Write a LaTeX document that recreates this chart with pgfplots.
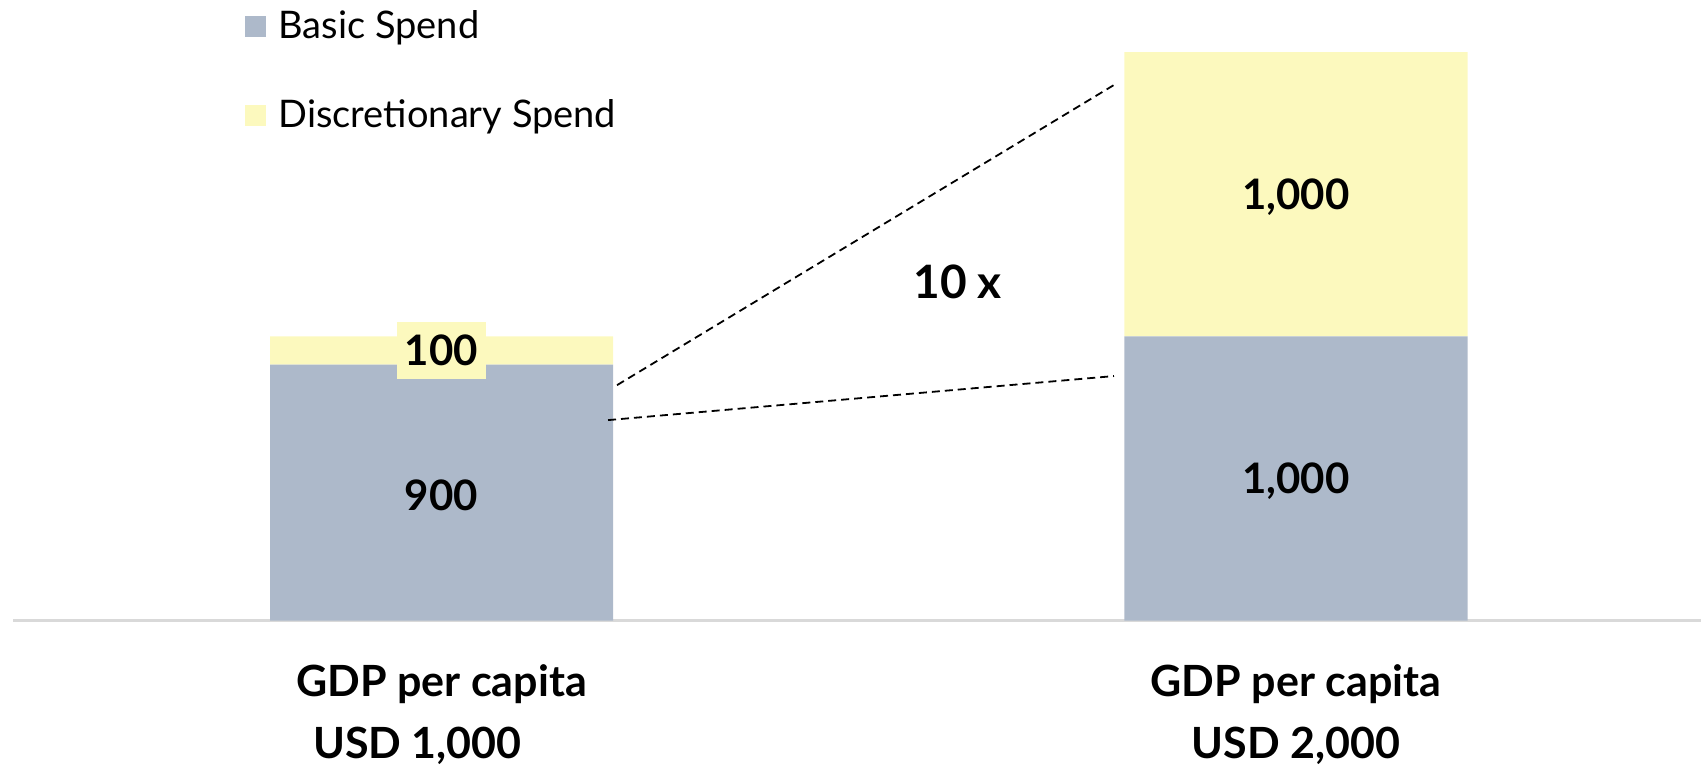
\documentclass[border=0pt]{standalone}
\usepackage{pgfplots}
\pgfplotsset{compat=1.18}
\usepackage{fontspec}
\setmainfont{Lato}
\definecolor{basic}{HTML}{ADB9CA}
\definecolor{discr}{HTML}{FCF9BE}
\definecolor{baseline}{HTML}{D9D9D9}

\begin{document}
\begin{tikzpicture}
\begin{axis}[
    at={(0,0)}, anchor=south west,
    scale only axis,
    width=844pt,
    height=310.25pt,
    ybar stacked,
    bar width=171.5pt,
    xmin=-0.5015, xmax=1.474,
    ymin=0, ymax=2183,
    axis x line=bottom,
    axis y line=none,
    x axis line style={-, draw=baseline, line width=1.5pt},
    xtick={0,1},
    major tick length=0pt,
    xticklabels={{GDP per capita\\[6pt]USD 1,000\hspace*{24pt}},{GDP per capita\\[6pt]USD 2,000}},
    xticklabel style={align=center, font=\fontsize{21.5}{25}\selectfont\bfseries,
        anchor=north, inner sep=0pt, yshift=-21.8pt},
    legend style={at={(axis description cs:0.137,0.99)}, anchor=north west,
        draw=none, fill=none, inner sep=0pt,
        font=\fontsize{19}{22}\selectfont,
        row sep=25pt, cells={anchor=west}},
    legend image code/.code={\fill[#1] (0pt,-5.25pt) rectangle (10.5pt,5.25pt);
        \path (15pt,0pt);},
    clip=false,
]
\addplot[fill=basic, draw=none] coordinates {(0,900) (1,1000)};
\addplot[fill=discr, draw=none] coordinates {(0,100) (1,1000)};
\legend{Basic Spend, Discretionary Spend}

% anchor points for the labels, drawn after the axis so they sit on top
\coordinate (b0) at (axis cs:0,440);
\coordinate (d0) at (axis cs:0,950);
\coordinate (b1) at (axis cs:1,490);
\coordinate (d1) at (axis cs:1,1490);
\coordinate (l1a) at (axis cs:0.2054,828);
\coordinate (l1b) at (axis cs:0.787,1884);
\coordinate (l2a) at (axis cs:0.1949,705);
\coordinate (l2b) at (axis cs:0.787,860);
\coordinate (mult) at (axis cs:0.604,1191);
\end{axis}

\tikzset{lbl/.style={font=\fontsize{21}{24}\selectfont\bfseries}}
\node[lbl] at (b0) {900};
\node[lbl, fill=discr, inner xsep=4pt, minimum height=28.5pt] at (d0) {100};
\node[lbl] at (b1) {1,000};
\node[lbl] at (d1) {1,000};
\draw[dash pattern=on 4pt off 2.5pt, line width=0.9pt] (l1a) -- (l1b);
\draw[dash pattern=on 4pt off 2.5pt, line width=0.9pt] (l2a) -- (l2b);
\node[font=\fontsize{23}{26}\selectfont\bfseries] at (mult) {10 x};

\pgfresetboundingbox
\path[use as bounding box] (-6.5pt,-72.25pt) rectangle (844pt,310.25pt);
\end{tikzpicture}
\end{document}
